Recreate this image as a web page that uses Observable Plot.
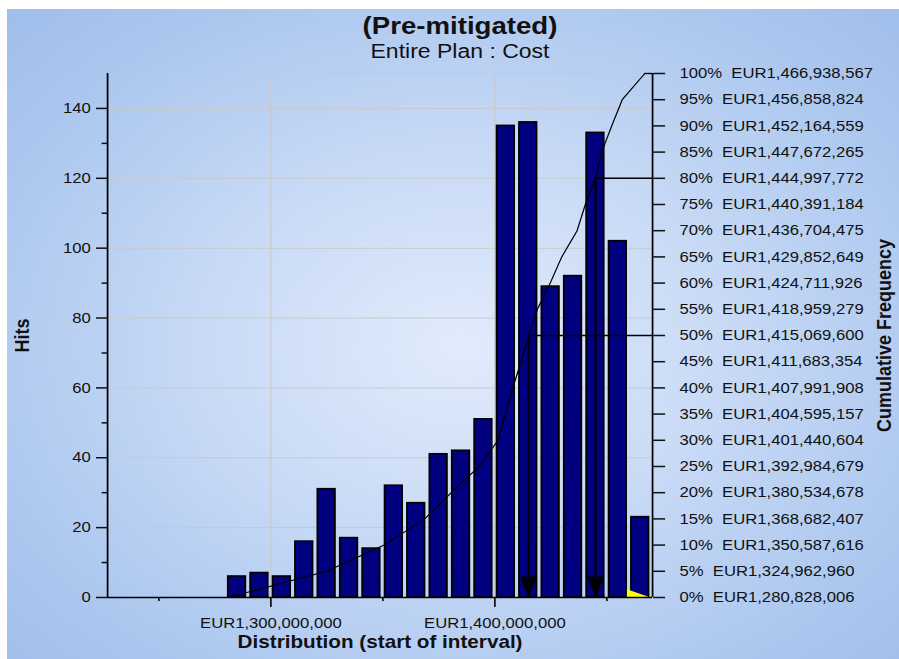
<!DOCTYPE html>
<html>
<head>
<meta charset="utf-8">
<script src="https://cdn.jsdelivr.net/npm/d3@7"></script>
<script src="https://cdn.jsdelivr.net/npm/@observablehq/plot@0.6"></script>
<style>
  html, body { margin: 0; padding: 0; background: #fff; }
  #chart { position: relative; width: 899px; height: 659px; overflow: hidden; background: #fff; font-family: "Liberation Sans", Arial, sans-serif; }
  #panel { position: absolute; left: 7px; top: 9px; right: 0; bottom: 0;
    background: radial-gradient(ellipse at 51% 52%, #e1ecfc 0%, #cadbf6 38%, #b0caf0 72%, #9fbeea 100%); }
  .ttl { position: absolute; left: 0; width: 920px; text-align: center; color: #111; transform: scaleX(1.15); transform-origin: 460px 0; white-space: pre; }
  #title { top: 14px; font-size: 24px; line-height: 24px; font-weight: bold; }
  #subtitle { top: 41px; font-size: 20px; line-height: 20px; }
  #plot { position: absolute; left: 0; top: 0; transform-origin: 0 0; }
  #plot svg text { white-space: pre; }
</style>
</head>
<body>
<div id="chart">
  <div id="panel"></div>
  <div id="title" class="ttl">(Pre-mitigated)</div>
  <div id="subtitle" class="ttl">Entire Plan : Cost</div>
  <div id="plot"></div>
</div>
<script>
// ---- data (x values in millions of EUR) ----
const hits = [6, 7, 6, 16, 31, 17, 14, 32, 27, 41, 42, 51, 135, 136, 89, 92, 133, 102, 23];
const binEdges = [1280.828, 1290.828, 1300.828, 1310.828, 1320.828, 1330.828, 1340.828, 1350.828,
  1360.828, 1370.828, 1380.828, 1390.828, 1400.828, 1410.828, 1420.828, 1430.828, 1440.828,
  1450.828, 1460.828, 1470.828];
const cumPct = [0, 5, 10, 15, 20, 25, 30, 35, 40, 45, 50, 55, 60, 65, 70, 75, 80, 85, 90, 95, 100];
const cumValue = [1280828006, 1324962960, 1350587616, 1368682407, 1380534678, 1392984679,
  1401440604, 1404595157, 1407991908, 1411683354, 1415069600, 1418959279, 1424711926,
  1429852649, 1436704475, 1440391184, 1444997772, 1447672265, 1452164559, 1456858824, 1466938567];
const markerPct = [50, 80];        // arrows
const markerLinePct = [50, 80, 100]; // horizontal percentile lines
const xMajorTicks = [1300, 1400];
const xMinorTicks = [1250, 1350, 1450];
const yMajorTicks = [0, 20, 40, 60, 80, 100, 120, 140];
const yMinorTicks = [10, 30, 50, 70, 90, 110, 130];
const yGrid = [20, 40, 60, 80, 100, 120, 140, 150];
const tailX = [1459.2, 1469.1];
const tailY = [2.2, 0];
const xDomain = [1227.1, 1470.4];
const yDomain = [0, 150];

// ---- tables built from the arrays ----
const bins = hits.map((h, i) => ({x1: binEdges[i], x2: binEdges[i + 1], hits: h}));
const cum = cumPct.map((p, i) => ({p, v: cumValue[i] / 1e6, raw: cumValue[i]}));
const pctMap = new Map(cum.map(d => [d.p, d]));
const markers = markerPct.map(p => pctMap.get(p));
const markerLines = markerLinePct.map(p => pctMap.get(p));
const tail = tailX.map((x, i) => ({x, y: tailY[i]}));
const fmt = d3.format(",");
const yMax = yDomain[1];
const rightLabel = new Map(cum.map(d => [d.p / 100 * yMax, `${d.p}%  EUR${fmt(d.raw)}`]));

// horizontal stretch of the original picture
const SX = 1.15;
const W = 899 / SX;
const H = 659;
const plotRightPx = 652, plotLeftPx = 107;

const downTriangle = {
  draw(ctx) {
    ctx.moveTo(-7.4, -21);
    ctx.lineTo(7.4, -21);
    ctx.lineTo(0, 0);
    ctx.closePath();
  }
};

const grid = "#c9c9c9";
const chart = Plot.plot({
  width: W,
  height: H,
  marginLeft: plotLeftPx / SX,
  marginRight: (899 - plotRightPx) / SX,
  marginTop: 73,
  marginBottom: 62,
  style: {background: "transparent", overflow: "visible", fontFamily: "'Liberation Sans', Arial, sans-serif", fontSize: "14.5px", color: "#111"},
  x: {type: "linear", domain: xDomain, label: null},
  y: {type: "linear", domain: yDomain, label: null},
  marks: [
    Plot.gridY(yGrid, {stroke: grid, strokeOpacity: 1, strokeWidth: 1}),
    Plot.gridX(xMajorTicks, {stroke: grid, strokeOpacity: 1, strokeWidth: 1}),
    Plot.rectY(bins, {x1: "x1", x2: "x2", y: "hits", fill: "#000080", stroke: "#000", strokeWidth: 1.6, insetLeft: 0.4, insetRight: 3.9}),
    Plot.areaY(tail, {x: "x", y: "y", fill: "#ffff00"}),
    Plot.line(cum, {x: "v", y: d => d.p / 100 * yMax, stroke: "#000", strokeWidth: 1.1}),
    Plot.ruleY(markerLines, {y: d => d.p / 100 * yMax, x1: "v", x2: xDomain[1], stroke: "#000", strokeWidth: 1.4}),
    Plot.ruleX(markers, {x: "v", y1: 0, y2: d => d.p / 100 * yMax, stroke: "#000", strokeWidth: 1.8}),
    Plot.dot(markers, {x: "v", y: 0, symbol: downTriangle, fill: "#000", stroke: "none"}),
    Plot.ruleX(xDomain, {stroke: "#000", strokeWidth: 1.5}),
    Plot.ruleY([0], {stroke: "#000", strokeWidth: 1.5}),
    Plot.axisY({anchor: "left", ticks: yMajorTicks, tickSize: 9.6, tickPadding: 5, strokeWidth: 1.5, label: null, fill: "#111"}),
    Plot.axisY({anchor: "left", ticks: yMinorTicks, tickSize: 4.7, tickFormat: () => "", strokeWidth: 1.5, label: null}),
    Plot.axisY({anchor: "right", ticks: [...rightLabel.keys()], tickSize: 10.4, tickPadding: 13, tickFormat: v => rightLabel.get(v), strokeWidth: 1.5, label: null, fill: "#111"}),
    Plot.axisX({anchor: "bottom", ticks: xMajorTicks, tickSize: 10, tickPadding: 10, tickFormat: d => "EUR" + fmt(d * 1e6), strokeWidth: 1.5, label: null, fill: "#111"}),
    Plot.axisX({anchor: "bottom", ticks: xMinorTicks, tickSize: 4, tickFormat: () => "", strokeWidth: 1.5, label: null}),
    Plot.text(["Distribution (start of interval)"], {frameAnchor: "bottom", dy: 51, fontWeight: "bold", fontSize: 18, fill: "#111", textAnchor: "middle"}),
    Plot.text(["Hits"], {frameAnchor: "left", rotate: -90, dx: 18.7 - plotLeftPx / SX, fontWeight: "bold", fontSize: 18, fill: "#111", textAnchor: "middle", lineAnchor: "middle"}),
    Plot.text(["Cumulative Frequency"], {frameAnchor: "right", rotate: -90, dx: 884 / SX - plotRightPx / SX, fontWeight: "bold", fontSize: 18, fill: "#111", textAnchor: "middle", lineAnchor: "middle"})
  ]
});

const holder = document.getElementById("plot");
holder.style.width = W + "px";
holder.style.transform = `scaleX(${SX})`;
holder.appendChild(chart);
</script>
</body>
</html>
